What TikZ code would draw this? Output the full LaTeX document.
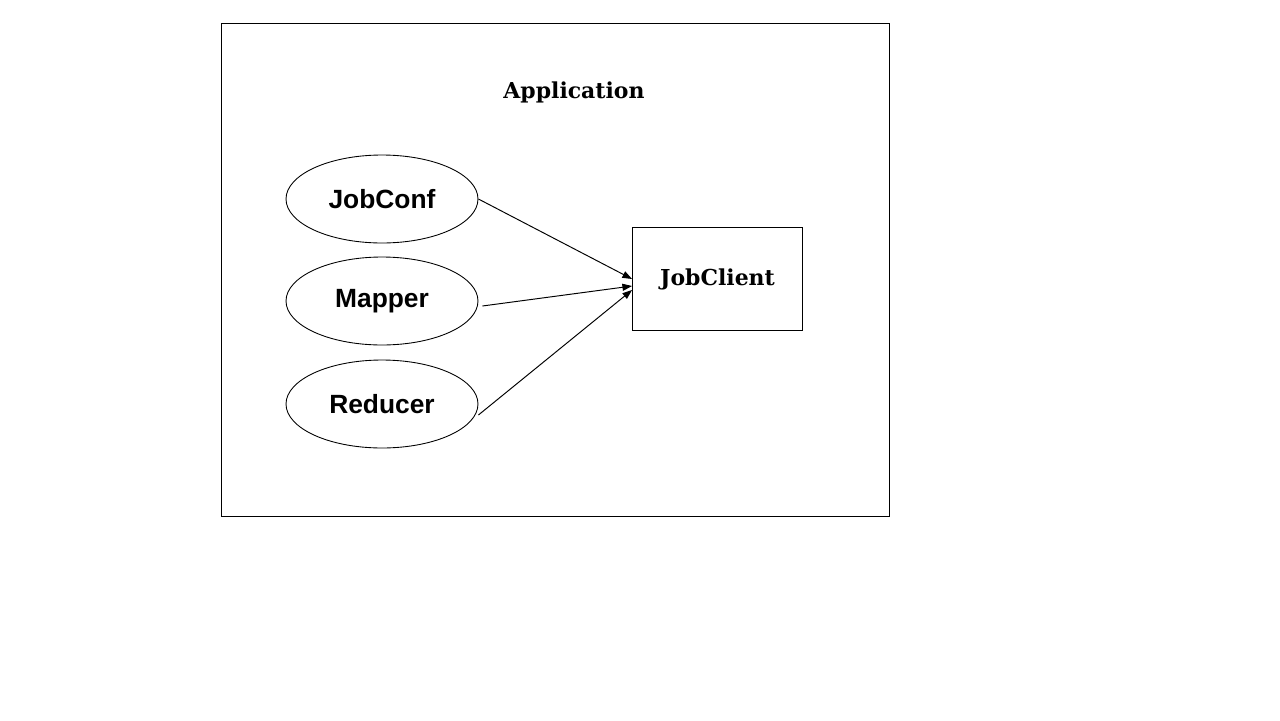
\documentclass[tikz,border=0pt]{standalone}
\usepackage{fontspec}
\setmainfont{Liberation Sans}
\newfontfamily\slabfont{DejaVu Serif}
\usetikzlibrary{shapes.geometric,arrows.meta,calc}

\tikzset{
  classnode/.style={draw=black, line width=0.5pt, ellipse, inner sep=0pt,
    minimum width=3.84cm, minimum height=1.76cm,
    font=\fontsize{15}{18}\selectfont\bfseries},
  clientbox/.style={draw=black, line width=0.5pt, rectangle, inner sep=0pt,
    minimum width=3.4cm, minimum height=2.06cm,
    font=\slabfont\fontsize{12.5}{15}\selectfont\bfseries},
  feed/.style={line width=0.55pt, -{Triangle[length=5.5pt,width=4pt]}}
}

\begin{document}
\begin{tikzpicture}[x=0.02cm, y=-0.02cm]

        \useasboundingbox (0,0) rectangle (1280,720);

        % Application frame
        \draw[line width=0.5pt] (221.5,23.5) rectangle (889.5,516.5);
        \node[font=\slabfont\fontsize{12.5}{15}\selectfont\bfseries] (app) at (574,92) {Application};

        % Parts
        \node[classnode] (jobconf) at (382,199) {JobConf};
        \node[classnode] (mapper) at (382,301) {Mapper};
        \node[classnode] (reducer) at (382,404) {Reducer};

        % Client
        \node[clientbox] (jobclient) at (717.5,279) {JobClient};

        % Connectors
        \draw[feed] (jobconf.east) -- (jobclient.west);
        \draw[feed] ($(mapper.east)+(4,5)$) -- ($(jobclient.west)+(0,7)$);
        \draw[feed] ($(reducer.east)+(0,11)$) -- ($(jobclient.west)+(0,11)$);

\end{tikzpicture}
\end{document}
